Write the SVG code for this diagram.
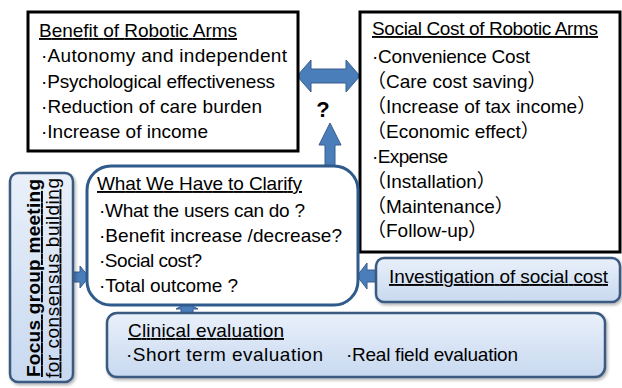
<svg xmlns="http://www.w3.org/2000/svg" width="622" height="388" viewBox="0 0 622 388">
  <defs>
    <linearGradient id="paleBlue" x1="0" y1="0" x2="0" y2="1">
      <stop offset="0" stop-color="#e9f0fa"/>
      <stop offset="1" stop-color="#c8d9f0"/>
    </linearGradient>
    <filter id="softShadow" x="-10%" y="-10%" width="125%" height="130%">
      <feDropShadow dx="1.5" dy="2" stdDeviation="1.5" flood-color="#000" flood-opacity="0.3"/>
    </filter>
    <style>
      text { font-family: "Liberation Sans", "Noto Sans CJK JP", sans-serif; font-size: 19px; fill: #000; }
      .heading { text-decoration: underline; }
      .plain-box { fill: #fff; stroke: #000; stroke-width: 3; }
      .blue-box { fill: url(#paleBlue); stroke: #3a5a80; stroke-width: 2.5; filter: url(#softShadow); }
      .outline-box { fill: #fff; stroke: #2f5b8c; stroke-width: 3; }
      .block-arrow { fill: #4a7ebb; stroke: #385d8a; stroke-width: 1; }
      .query { font-weight: bold; font-size: 22px; text-anchor: middle; }
    </style>
  </defs>

  <rect width="622" height="388" fill="#fff"/>

  <!-- connectors: block arrows between the panels -->
  <g id="connectors">
    <!-- two-way arrow between benefit and cost -->
    <path class="block-arrow" d="M297,76 L311,60 L311,69 L346,69 L346,60 L360,76 L346,92 L346,83 L311,83 L311,92 Z"/>
    <text class="query" x="323" y="117">?</text>
    <!-- upward arrow from the clarification panel -->
    <path class="block-arrow" d="M330,123 L341,145 L335,145 L335,168 L325,168 L325,145 L319,145 Z"/>
    <!-- focus group into clarification -->
    <path class="block-arrow" d="M72,272 L80,272 L80,266 L89,277 L80,288 L80,282 L72,282 Z"/>
    <!-- cost investigation into clarification -->
    <path class="block-arrow" d="M377,270 L367,270 L367,263 L357,276 L367,289 L367,282 L377,282 Z"/>
    <!-- clinical evaluation into clarification -->
    <path class="block-arrow" d="M187,303 L198,309 L193,309 L193,314 L181,314 L181,309 L176,309 Z"/>
  </g>

  <g id="benefit">
    <rect class="plain-box" x="28" y="12" width="270" height="139"/>
    <text class="heading" x="39" y="37" textLength="198">Benefit of Robotic Arms</text>
    <text x="41" y="62" textLength="246">·Autonomy and independent</text>
    <text x="41" y="88" textLength="234">·Psychological effectiveness</text>
    <text x="41" y="113" textLength="221">·Reduction of care burden</text>
    <text x="41" y="138" textLength="167">·Increase of income</text>
  </g>

  <g id="social-cost">
    <rect class="plain-box" x="360" y="12" width="260" height="240"/>
    <text class="heading" x="372" y="35" textLength="226">Social Cost of Robotic Arms</text>
    <text x="372" y="63" textLength="158">·Convenience Cost</text>
    <text x="367" y="88">（Care cost saving）</text>
    <text x="367" y="113">（Increase of tax income）</text>
    <text x="367" y="138">（Economic effect）</text>
    <text x="372" y="163" textLength="76">·Expense</text>
    <text x="367" y="188">（Installation）</text>
    <text x="367" y="213">（Maintenance）</text>
    <text x="367" y="237">（Follow-up）</text>
  </g>

  <g id="clarify">
    <rect class="outline-box" x="87" y="166" width="271" height="139" rx="24" ry="24"/>
    <text class="heading" x="97" y="190" textLength="205">What We Have to Clarify</text>
    <text x="99" y="217" textLength="206">·What the users can do ?</text>
    <text x="99" y="242" textLength="243">·Benefit increase /decrease?</text>
    <text x="99" y="267" textLength="103">·Social cost?</text>
    <text x="99" y="292" textLength="139">·Total outcome ?</text>
  </g>

  <g id="focus-group">
    <rect class="blue-box" x="10" y="173" width="63" height="209" rx="8" ry="8"/>
    <text class="heading" transform="translate(40,278) rotate(-90)" text-anchor="middle" textLength="198" font-weight="bold">Focus group meeting</text>
    <text class="heading" transform="translate(58.5,278) rotate(-90)" text-anchor="middle" textLength="200">for consensus building</text>
  </g>

  <g id="investigation">
    <rect class="blue-box" x="376" y="258" width="244" height="44" rx="8" ry="8"/>
    <text class="heading" x="389" y="283" textLength="219">Investigation of social cost</text>
  </g>

  <g id="clinical">
    <rect class="blue-box" x="107" y="313" width="498" height="64" rx="10" ry="10"/>
    <text class="heading" x="128" y="337" textLength="156">Clinical evaluation</text>
    <text y="361"><tspan x="126" textLength="197">·Short term evaluation</tspan><tspan x="346" textLength="172">·Real field evaluation</tspan></text>
  </g>
</svg>
